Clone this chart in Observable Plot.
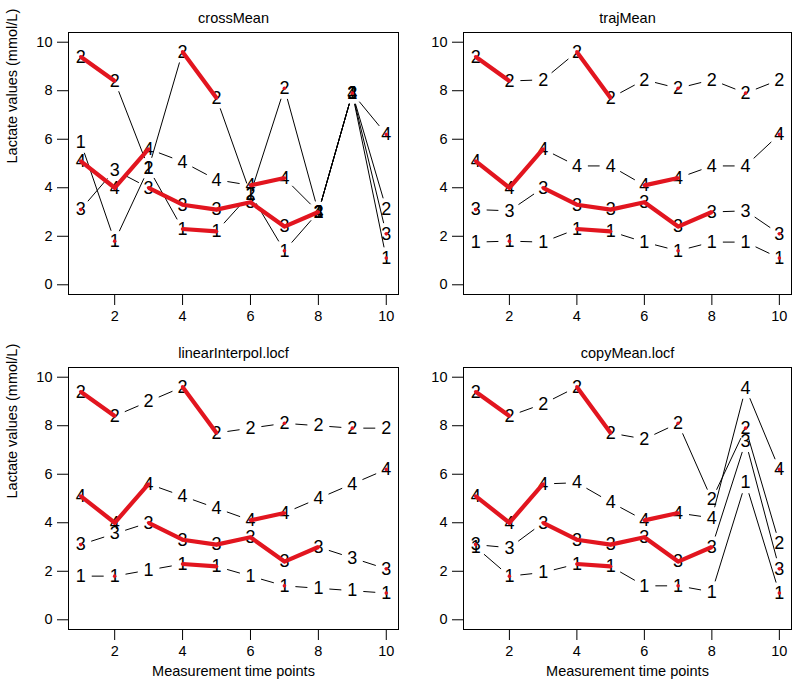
<!DOCTYPE html>
<html>
<head>
<meta charset="utf-8">
<script src="https://cdn.jsdelivr.net/npm/d3@7"></script>
<script src="https://cdn.jsdelivr.net/npm/@observablehq/plot@0.6"></script>
<style>
  html, body { margin: 0; padding: 0; background: white; }
  #chart { position: relative; width: 796px; height: 686px; background: white; overflow: hidden; }
  #chart > div { position: absolute; }
</style>
</head>
<body>
<div id="chart"></div>
<script>
// ---- data ----
const times = [1, 2, 3, 4, 5, 6, 7, 8, 9, 10];
const trajLabels = ["1", "2", "3", "4"];
const xTicks = [2, 4, 6, 8, 10];
const yTicks = [0, 2, 4, 6, 8, 10];
const titles = ["crossMean", "trajMean", "linearInterpol.locf", "copyMean.locf"];
const xLabel = "Measurement time points";
const yLabel = "Lactate values (mmol/L)";

// observed values (NaN = missing)
const obs1 = [NaN, 1.8, NaN, 2.3, 2.2, NaN, 1.4, NaN, NaN, 1.1];
const obs2 = [9.4, 8.4, NaN, 9.6, 7.7, NaN, 8.1, NaN, 7.9, NaN];
const obs3 = [3.1, NaN, 4.0, 3.3, 3.1, 3.4, 2.4, 3.0, NaN, 2.1];
const obs4 = [5.1, 4.0, 5.6, NaN, NaN, 4.1, 4.4, NaN, NaN, 6.2];

// crossMean imputation
const cm1 = [5.87, 1.8, 4.8, 2.3, 2.2, 3.75, 1.4, 3.0, 7.9, 1.1];
const cm2 = [9.4, 8.4, 4.8, 9.6, 7.7, 3.75, 8.1, 3.0, 7.9, 3.13];
const cm3 = [3.1, 4.73, 4.0, 3.3, 3.1, 3.4, 2.4, 3.0, 7.9, 2.1];
const cm4 = [5.1, 4.0, 5.6, 5.07, 4.33, 4.1, 4.4, 3.0, 7.9, 6.2];

// trajMean imputation
const tm1 = [1.76, 1.8, 1.76, 2.3, 2.2, 1.76, 1.4, 1.76, 1.76, 1.1];
const tm2 = [9.4, 8.4, 8.45, 9.6, 7.7, 8.45, 8.1, 8.45, 7.9, 8.45];
const tm3 = [3.1, 3.05, 4.0, 3.3, 3.1, 3.4, 2.4, 3.0, 3.05, 2.1];
const tm4 = [5.1, 4.0, 5.6, 4.9, 4.9, 4.1, 4.4, 4.9, 4.9, 6.2];

// linearInterpol.locf imputation
const li1 = [1.8, 1.8, 2.05, 2.3, 2.2, 1.8, 1.4, 1.3, 1.2, 1.1];
const li2 = [9.4, 8.4, 9.0, 9.6, 7.7, 7.9, 8.1, 8.0, 7.9, 7.9];
const li3 = [3.1, 3.55, 4.0, 3.3, 3.1, 3.4, 2.4, 3.0, 2.55, 2.1];
const li4 = [5.1, 4.0, 5.6, 5.1, 4.6, 4.1, 4.4, 5.0, 5.6, 6.2];

// copyMean.locf imputation
const cp1 = [3.0, 1.8, 1.95, 2.3, 2.2, 1.4, 1.4, 1.15, 5.65, 1.1];
const cp2 = [9.4, 8.4, 8.9, 9.6, 7.7, 7.45, 8.1, 4.95, 7.9, 3.15];
const cp3 = [3.1, 2.97, 4.0, 3.3, 3.1, 3.4, 2.4, 3.0, 7.35, 2.1];
const cp4 = [5.1, 4.0, 5.6, 5.65, 4.85, 4.1, 4.4, 4.2, 9.55, 6.2];

// ---- drawing ----
const RED = "#e2151f";
const FONT = "'Liberation Sans', Arial, Helvetica, sans-serif";
const observed = [obs1, obs2, obs3, obs4];
const imputations = [[cm1, cm2, cm3, cm4], [tm1, tm2, tm3, tm4], [li1, li2, li3, li4], [cp1, cp2, cp3, cp4]];

function panel(imp, title, col, row) {
  const pts = [], segs = [], obsPts = [];
  imp.forEach((vals, k) => {
    vals.forEach((v, i) => pts.push({t: times[i], v, traj: trajLabels[k]}));
    for (let i = 0; i < vals.length - 1; i++)
      segs.push({t1: times[i], v1: vals[i], t2: times[i + 1], v2: vals[i + 1]});
  });
  observed.forEach((vals, k) => vals.forEach((v, i) => obsPts.push({t: times[i], v, traj: trajLabels[k]})));

  const left = col === 0;
  const bottom = row === 1;
  const marks = [
    Plot.arrow(segs, {x1: "t1", y1: "v1", x2: "t2", y2: "v2", headLength: 0, inset: 11,
      stroke: "black", strokeWidth: 1, strokeLinecap: "butt"}),
    Plot.text(pts, {x: "t", y: "v", text: "traj", fontSize: 18, fill: "black"}),
    Plot.line(obsPts, {x: "t", y: "v", z: "traj", stroke: RED, strokeWidth: 4.2, strokeLinecap: "butt"}),
    Plot.dot(obsPts.filter(d => !isNaN(d.v)), {x: "t", y: "v", r: 1.8, fill: RED, stroke: null}),
    Plot.frame({stroke: "black", strokeWidth: 1}),
    Plot.axisX({ticks: xTicks, tickSize: 11, tickPadding: 5, label: null, fontSize: 14.5}),
    Plot.axisY({ticks: yTicks, tickSize: 11, tickPadding: 5, label: null, fontSize: 14.5}),
    Plot.text([title], {frameAnchor: "top", dy: -20, fontSize: 14.5, fill: "black"})
  ];
  if (left) marks.push(Plot.text([yLabel], {frameAnchor: "left", rotate: -90, dx: -56, fontSize: 14.5, fill: "black"}));
  if (bottom) marks.push(Plot.text([xLabel], {frameAnchor: "bottom", dy: 46, fontSize: 14.5, fill: "black"}));

  const svg = Plot.plot({
    width: left ? 400 : 398,
    height: bottom ? 356 : 330,
    marginLeft: left ? 68 : 65,
    marginRight: left ? 2 : 5,
    marginTop: bottom ? 37 : 32,
    marginBottom: bottom ? 57 : 36,
    x: {domain: [0.64, 10.36]},
    y: {domain: [-0.4, 10.4]},
    style: {fontFamily: FONT, fontSize: "14.5px", color: "black", background: "transparent"},
    marks
  });
  const holder = document.createElement("div");
  holder.style.left = (left ? 0 : 398) + "px";
  holder.style.top = (bottom ? 330 : 0) + "px";
  holder.appendChild(svg);
  return holder;
}

const chart = document.getElementById("chart");
imputations.forEach((imp, idx) => {
  chart.appendChild(panel(imp, titles[idx], idx % 2, Math.floor(idx / 2)));
});
</script>
</body>
</html>
